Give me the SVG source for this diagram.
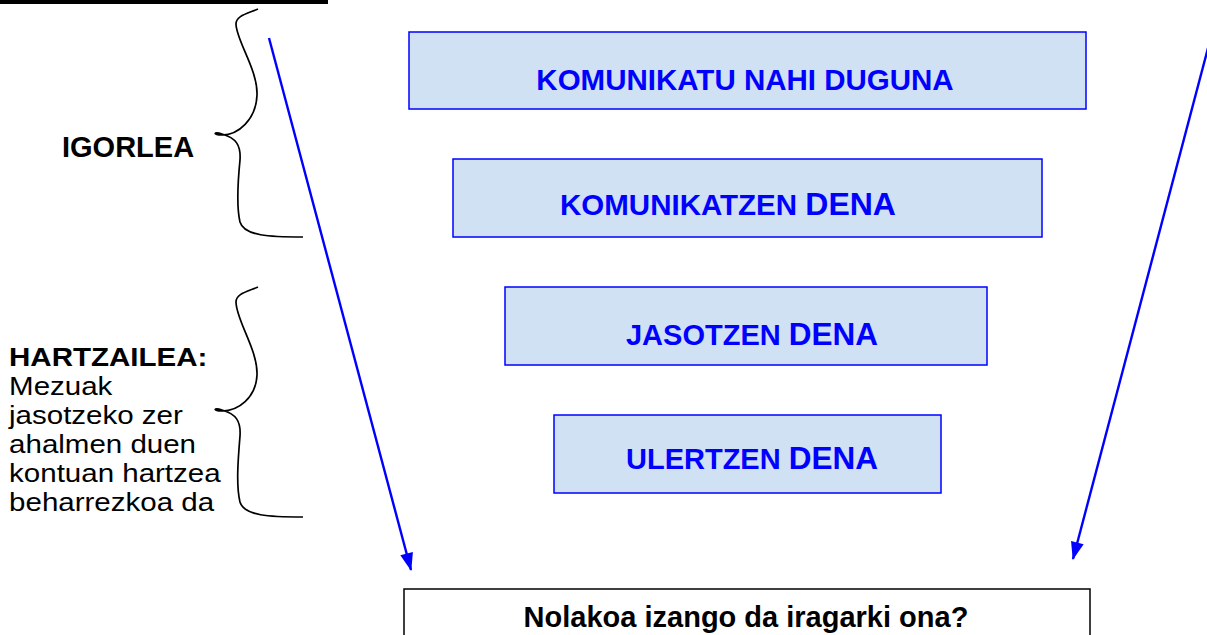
<svg xmlns="http://www.w3.org/2000/svg" width="1207" height="635" viewBox="0 0 1207 635">
<style>
.box{fill:#cfe1f2;stroke:#0000ff;stroke-width:1.5}
.bt{font-family:"Liberation Sans",Arial,sans-serif;font-weight:bold;fill:#0000ff;text-anchor:middle}
.lt{font-family:"Liberation Sans",Arial,sans-serif;fill:#000;font-size:26px}
.brace{fill:none;stroke:#000;stroke-width:1.7}
.arr{stroke:#0000ff;stroke-width:2.4;fill:none;marker-end:url(#ah)}
</style>
<defs>
<marker id="ah" viewBox="0 0 18 13" refX="17" refY="6.5" markerWidth="18" markerHeight="13" markerUnits="userSpaceOnUse" orient="auto" overflow="visible">
<path d="M0,0 L18,6.5 L0,13 z" fill="#0000ff"/>
</marker>
</defs>
<rect x="0" y="0" width="328" height="4" fill="#000"/>
<g id="node-komunikatu">
<rect class="box" x="409" y="32" width="677" height="77"/>
<text class="bt" x="745" y="90" font-size="29.5">KOMUNIKATU NAHI DUGUNA</text>
</g>
<g id="node-komunikatzen">
<rect class="box" x="453" y="159" width="589" height="78"/>
<text class="bt" x="728" y="215"><tspan font-size="29.5">KOMUNIKATZEN </tspan><tspan font-size="32">DENA</tspan></text>
</g>
<g id="node-jasotzen">
<rect class="box" x="505" y="287" width="482" height="78"/>
<text class="bt" x="752" y="345"><tspan font-size="29">JASOTZEN </tspan><tspan font-size="31.5">DENA</tspan></text>
</g>
<g id="node-ulertzen">
<rect class="box" x="554" y="415" width="387" height="78"/>
<text class="bt" x="752" y="469"><tspan font-size="29">ULERTZEN </tspan><tspan font-size="31.5">DENA</tspan></text>
</g>
<g id="node-nolakoa">
<rect x="404" y="589" width="686" height="60" fill="#fff" stroke="#000" stroke-width="1.5"/>
<text x="746" y="627" font-family="Liberation Sans,Arial,sans-serif" font-weight="bold" font-size="29" text-anchor="middle" fill="#000">Nolakoa izango da iragarki ona?</text>
</g>
<g id="node-igorlea">
<text x="62" y="157" font-family="Liberation Sans,Arial,sans-serif" font-weight="bold" font-size="29" fill="#000">IGORLEA</text>
<path class="brace" d="M258,9 C246,14 236,16 236,24 C236,40 258,70 257,95 C256,120 238,135 222,135 C212,135 214,131 222,134 C236,138 241,145 240,160 C238,180 236,205 240,222 C244,236 270,237 303,237"/>
</g>
<g id="node-hartzailea">
<text class="lt" transform="scale(1.135,1)" x="8" y="366"><tspan font-weight="bold">HARTZAILEA:</tspan><tspan x="8" dy="29">Mezuak</tspan><tspan x="8" dy="29">jasotzeko zer</tspan><tspan x="8" dy="29">ahalmen duen</tspan><tspan x="8" dy="29">kontuan hartzea</tspan><tspan x="8" dy="29">beharrezkoa da</tspan></text>
<path class="brace" d="M258,287 C246,292 236,294 236,302 C236,320 258,350 257,375 C256,398 238,411 222,411 C212,411 214,407 222,410 C236,414 241,421 240,436 C238,460 236,486 240,502 C244,516 270,517 303,517"/>
</g>
<g id="connectors">
<line class="arr" x1="269" y1="38" x2="411" y2="570"/>
<line class="arr" x1="1208" y1="48" x2="1073" y2="559"/>
</g>
</svg>
